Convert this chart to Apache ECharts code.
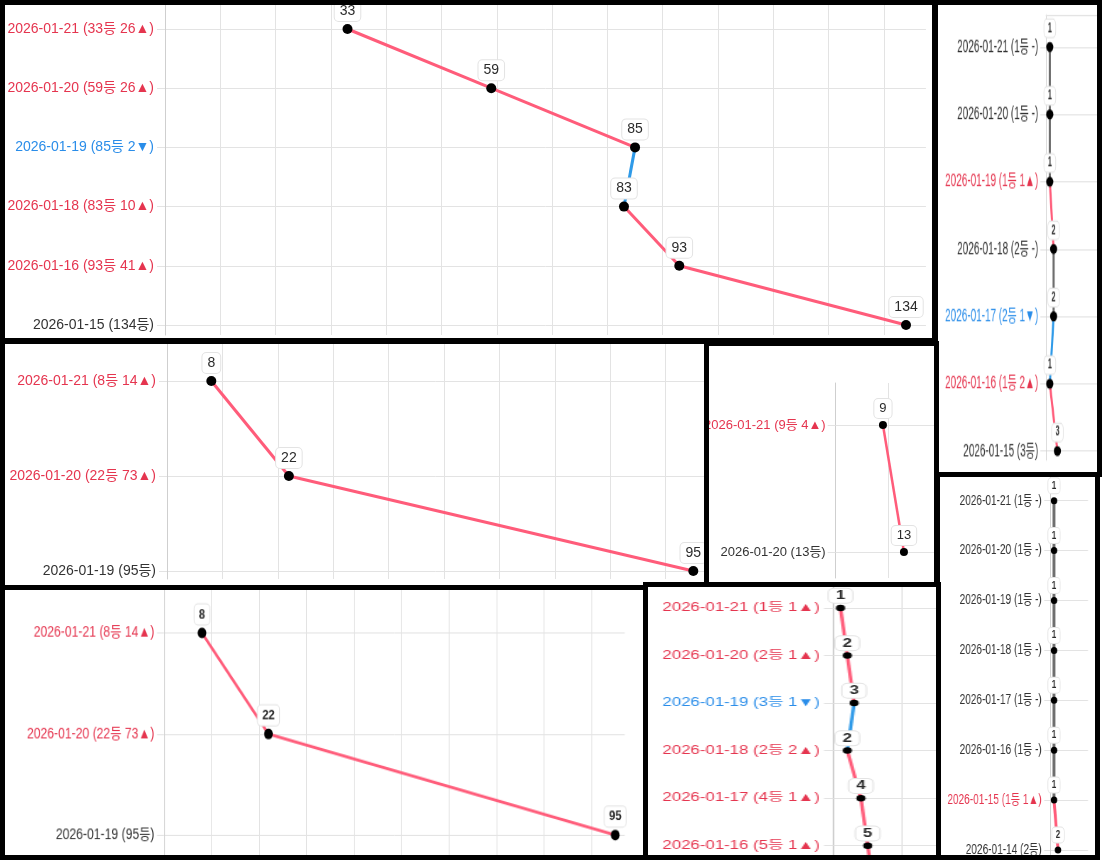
<!DOCTYPE html>
<html>
<head>
<meta charset="utf-8">
<title>순위 변화</title>
<script src="https://cdn.jsdelivr.net/npm/echarts@6/dist/echarts.min.js"></script>
<style>
  body { margin: 0; background: #fff; width: 1102px; height: 860px; position: relative; overflow: hidden; }
  .panel { position: absolute; box-sizing: border-box; border: 5px solid #000; background: #fff; overflow: hidden; }
  .chart { position: absolute; left: 0; top: 0; transform-origin: 0 0; }
</style>
</head>
<body>
<div class="panel" id="pA"><div class="chart"></div></div>
<div class="panel" id="pTR"><div class="chart"></div></div>
<div class="panel" id="pB"><div class="chart"></div></div>
<div class="panel" id="pC"><div class="chart"></div></div>
<div class="panel" id="pF"><div class="chart"></div></div>
<div class="panel" id="pD"><div class="chart"></div></div>
<div class="panel" id="pE"><div class="chart"></div></div>
<script>
// ---- data (oldest first) ----
const datesA = ['2026-01-15', '2026-01-16', '2026-01-18', '2026-01-19', '2026-01-20', '2026-01-21'];
const ranksA = [134, 93, 83, 85, 59, 33];

const datesB = ['2026-01-19', '2026-01-20', '2026-01-21'];
const ranksB = [95, 22, 8];

const datesC = ['2026-01-20', '2026-01-21'];
const ranksC = [13, 9];

const datesD = ['2026-01-19', '2026-01-20', '2026-01-21'];
const ranksD = [95, 22, 8];

const datesE = ['2026-01-15', '2026-01-16', '2026-01-17', '2026-01-18', '2026-01-19', '2026-01-20', '2026-01-21'];
const ranksE = [6, 5, 4, 2, 3, 2, 1];

const datesTR = ['2026-01-15', '2026-01-16', '2026-01-17', '2026-01-18', '2026-01-19', '2026-01-20', '2026-01-21'];
const ranksTR = [3, 1, 2, 2, 1, 1, 1];

const datesF = ['2026-01-14', '2026-01-15', '2026-01-16', '2026-01-17', '2026-01-18', '2026-01-19', '2026-01-20', '2026-01-21'];
const ranksF = [2, 1, 1, 1, 1, 1, 1, 1];

// ---- style ----
const FONT = "'Liberation Sans', Arial, 'Noto Sans CJK KR', sans-serif";
const TXT_UP = '#e5354f', TXT_DOWN = '#2a8de9', TXT_SAME = '#333';
const LINE_UP = '#ff5c7a', LINE_DOWN = '#2f9ae8', LINE_SAME = '#6e6e6e';
const GRID = '#e3e3e3';

function diff(ranks, i) {
  return i === 0 ? null : ranks[i - 1] - ranks[i];
}

function tickText(dates, ranks, i) {
  const d = diff(ranks, i);
  if (d === null) return dates[i] + ' (' + ranks[i] + '등)';
  const mark = d > 0 ? d + '▲' : d < 0 ? (-d) + '▼' : '-';
  return dates[i] + ' (' + ranks[i] + '등 ' + mark + ')';
}

function tickColor(ranks, i) {
  const d = diff(ranks, i);
  if (d === null || d === 0) return TXT_SAME;
  return d > 0 ? TXT_UP : TXT_DOWN;
}

// page-coordinate layout of each cropped panel
const panels = [
  { id: 'pA', dates: datesA, ranks: ranksA, box: [0, 0, 937, 343], sx: 1, sy: 1,
    axisX: 165, unit: 5.53, max: 137.6, catTop: 29, catBot: 325, frameTop: 5, frameBot: 335,
    font: 14, margin: 11, tick: 8, labelFont: 14, labelBold: false, labelPad: [3, 5], labelDist: 3, symbol: 10, lineW: 3, vsplit: true },
  { id: 'pTR', dates: datesTR, ranks: ranksTR, box: [933, 0, 169, 477], sx: 0.71, sy: 1.24,
    axisX: 1046, unit: 3.8, max: 20, catTop: 47, catBot: 451, frameTop: 15, frameBot: 460,
    font: 14, margin: 11, tick: 8, labelFont: 10, labelBold: true, labelPad: [2, 5], labelDist: 4, symbol: [10, 8], lineW: 3, vsplit: false, topLine: true },
  { id: 'pB', dates: datesB, ranks: ranksB, box: [0, 339, 709, 251], sx: 1, sy: 1,
    axisX: 167, unit: 5.54, max: 97, catTop: 381, catBot: 571, frameTop: 344, frameBot: 579,
    font: 14, margin: 11, tick: 8, labelFont: 14, labelBold: false, labelPad: [3, 5], labelDist: 3, symbol: 10, lineW: 3, vsplit: true },
  { id: 'pC', dates: datesC, ranks: ranksC, box: [704, 341, 235, 248], sx: 1, sy: 1,
    axisX: 835.7, unit: 5.25, max: 20, catTop: 425, catBot: 552, frameTop: 383, frameBot: 578,
    font: 13, margin: 10, tick: 8, labelFont: 13, labelBold: false, labelPad: [3, 5], labelDist: 3, symbol: 8, lineW: 2.5, vsplit: true },
  { id: 'pF', dates: datesF, ranks: ranksF, box: [935, 472, 165, 388], sx: 0.72, sy: 1,
    axisX: 1050, unit: 4, max: 9.5, catTop: 500.7, catBot: 850, frameTop: 477, frameBot: 855,
    font: 14, margin: 11.5, tick: 8, labelFont: 11, labelBold: true, labelPad: [2, 5], labelDist: 4, symbol: [9, 7], lineW: 4, vsplit: false },
  { id: 'pD', dates: datesD, ranks: ranksD, box: [0, 585, 648, 275], sx: 0.87, sy: 1.06,
    axisX: 164, unit: 4.75, max: 97, catTop: 633, catBot: 835, frameTop: 590, frameBot: 855,
    font: 14, margin: 11, tick: 8, labelFont: 13, labelBold: true, labelPad: [3, 5], labelDist: 3, symbol: 10, lineW: 3, vsplit: true },
  { id: 'pE', dates: datesE, ranks: ranksE, box: [643, 582, 298, 278], sx: 1.4, sy: 1,
    axisX: 833.7, unit: 6.8, max: 20, catTop: 608, catBot: 893.2, frameTop: 587, frameBot: 855,
    font: 12, margin: 10, tick: 7, labelFont: 12, labelBold: true, labelPad: [1, 5], labelDist: 2, symbol: 6.5, lineW: 2.5, vsplit: true }
];

function build(p) {
  const el = document.getElementById(p.id);
  const [bx, by, bw, bh] = p.box;
  el.style.left = bx + 'px';
  el.style.top = by + 'px';
  el.style.width = bw + 'px';
  el.style.height = bh + 'px';

  const ox = bx + 5, oy = by + 5;
  const lx = x => (x - ox) / p.sx;
  const ly = y => (y - oy) / p.sy;

  const div = el.querySelector('.chart');
  div.style.width = Math.round((bw - 10) / p.sx + 60) + 'px';
  div.style.height = Math.round((bh - 10) / p.sy + 60) + 'px';
  div.style.transform = 'scale(' + p.sx + ',' + p.sy + ')';

  const left = lx(p.axisX);
  const width = p.max * p.unit / p.sx;

  const series = [];
  for (let i = 1; i < p.ranks.length; i++) {
    const d = diff(p.ranks, i);
    series.push({
      type: 'line',
      xAxisIndex: 1,
      yAxisIndex: 1,
      data: [[p.ranks[i - 1], p.dates[i - 1]], [p.ranks[i], p.dates[i]]],
      symbol: 'none',
      lineStyle: { color: d > 0 ? LINE_UP : d < 0 ? LINE_DOWN : LINE_SAME, width: p.lineW },
      clip: false,
      silent: true,
      z: 2
    });
  }
  series.push({
    type: 'scatter',
    xAxisIndex: 1,
    yAxisIndex: 1,
    data: p.ranks.map((r, i) => [r, p.dates[i]]),
    symbolSize: p.symbol,
    itemStyle: { color: '#000', opacity: 1 },
    clip: false,
    z: 3,
    label: {
      show: true,
      position: 'top',
      distance: p.labelDist,
      formatter: q => q.value[0],
      color: '#2b2b2b',
      fontSize: p.labelFont,
      fontWeight: p.labelBold ? 'bold' : 'normal',
      fontFamily: FONT,
      backgroundColor: '#fff',
      borderColor: GRID,
      borderWidth: 1,
      borderRadius: 4,
      padding: p.labelPad
    }
  });

  const chart = echarts.init(div);
  chart.setOption({
    animation: false,
    grid: [
      // frame: vertical grid lines and axis line
      { left: left, width: width, top: ly(p.frameTop), height: ly(p.frameBot) - ly(p.frameTop), outerBoundsMode: 'none' },
      // data area: one row per date
      { left: left, width: width, top: ly(p.catTop), height: ly(p.catBot) - ly(p.catTop), outerBoundsMode: 'none' }
    ],
    xAxis: [
      {
        gridIndex: 0, type: 'value', min: 0, max: p.max, interval: 10,
        position: p.topLine ? 'top' : 'bottom',
        axisLine: { show: !!p.topLine, onZero: false, lineStyle: { color: GRID } },
        axisTick: { show: false },
        axisLabel: { show: false },
        splitLine: { show: p.vsplit, showMinLine: false, showMaxLine: false, lineStyle: { color: GRID } }
      },
      { gridIndex: 1, type: 'value', min: 0, max: p.max, interval: 10, show: false }
    ],
    yAxis: [
      {
        gridIndex: 0, type: 'value', min: 0, max: 1,
        axisLine: { show: true, lineStyle: { color: '#cfcfcf' } },
        axisTick: { show: false },
        axisLabel: { show: false },
        splitLine: { show: false }
      },
      {
        gridIndex: 1, type: 'category', data: p.dates, boundaryGap: false,
        axisLine: { show: false },
        axisTick: { show: true, length: p.tick, interval: 0, lineStyle: { color: GRID } },
        splitLine: { show: true, interval: 0, lineStyle: { color: GRID } },
        axisLabel: {
          interval: 0,
          margin: p.margin,
          fontSize: p.font,
          fontFamily: FONT,
          formatter: v => tickText(p.dates, p.ranks, p.dates.indexOf(v)),
          color: v => tickColor(p.ranks, p.dates.indexOf(v))
        }
      }
    ],
    series: series
  });
}

panels.forEach(build);
</script>
</body>
</html>
